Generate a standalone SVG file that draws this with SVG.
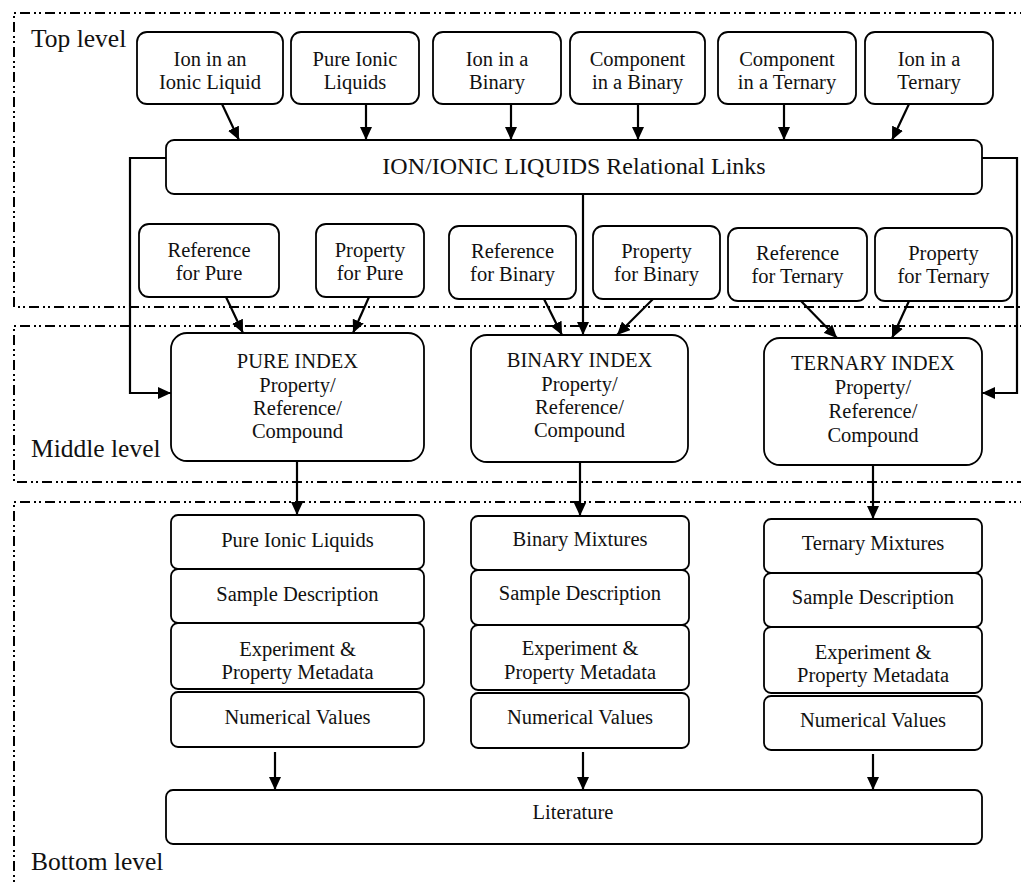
<svg xmlns="http://www.w3.org/2000/svg" width="1021" height="884" viewBox="0 0 1021 884">
<defs>
<marker id="ah" markerUnits="userSpaceOnUse" markerWidth="13" markerHeight="12" refX="13" refY="6" orient="auto">
<path d="M0,0 L13,6 L0,12 z" fill="#000"/>
</marker>
<style>
.bg{fill:#fff}
.region{fill:none;stroke:#000;stroke-width:2;stroke-dasharray:10 4 2 3 2 4}
.box{fill:#fff;stroke:#000;stroke-width:1.8}
.t{font-family:"Liberation Serif","Times New Roman",serif;font-size:20.5px;fill:#111;text-anchor:middle}
.big{font-size:24px}
.lbl{font-family:"Liberation Serif","Times New Roman",serif;font-size:25.5px;fill:#111}
.c{fill:none;stroke:#000;stroke-width:2.2;marker-end:url(#ah)}
</style>
</defs>
<rect class="bg" x="0" y="0" width="1021" height="884"/>
<g id="regions">
<path class="region" d="M1030,13 H14 V307 H1030"/>
<path class="region" d="M1030,326 H14 V482 H1030"/>
<path class="region" d="M1030,502 H14 V890"/>
<text class="lbl" x="31" y="47">Top level</text>
<text class="lbl" x="31" y="457">Middle level</text>
<text class="lbl" x="31" y="870">Bottom level</text>
</g>
<g id="connectors">
<line class="c" x1="222" y1="104" x2="239" y2="140"/>
<line class="c" x1="366" y1="104" x2="366" y2="140"/>
<line class="c" x1="511" y1="104" x2="511" y2="140"/>
<line class="c" x1="638" y1="104" x2="638" y2="140"/>
<line class="c" x1="784" y1="104" x2="784" y2="140"/>
<line class="c" x1="909" y1="104" x2="892" y2="140"/>
<polyline class="c" points="166,158 130,158 130,393 171,393"/>
<polyline class="c" points="982,158 1017,158 1017,393 982,393"/>
<line class="c" x1="583" y1="194" x2="583" y2="335"/>
<line class="c" x1="226" y1="297" x2="243" y2="333"/>
<line class="c" x1="369" y1="297" x2="353" y2="333"/>
<line class="c" x1="544" y1="299" x2="562" y2="335"/>
<line class="c" x1="653" y1="299" x2="617" y2="335"/>
<line class="c" x1="801" y1="301" x2="837" y2="338"/>
<line class="c" x1="909" y1="301" x2="892" y2="338"/>
<line class="c" x1="297" y1="461" x2="297" y2="515"/>
<line class="c" x1="580" y1="462" x2="580" y2="516"/>
<line class="c" x1="873" y1="465" x2="873" y2="519"/>
<line class="c" x1="275" y1="752" x2="275" y2="790"/>
<line class="c" x1="583" y1="752" x2="583" y2="790"/>
<line class="c" x1="873" y1="754" x2="873" y2="790"/>
</g>
<g id="n-ion-il"><rect class="box" x="137" y="32" width="146" height="72" rx="10"/><text class="t" x="210" y="66">Ion in an</text><text class="t" x="210" y="89">Ionic Liquid</text></g>
<g id="n-pure-il"><rect class="box" x="291" y="32" width="128" height="72" rx="10"/><text class="t" x="355" y="66">Pure Ionic</text><text class="t" x="355" y="89">Liquids</text></g>
<g id="n-ion-bin"><rect class="box" x="433" y="32" width="128" height="72" rx="10"/><text class="t" x="497" y="66">Ion in a</text><text class="t" x="497" y="89">Binary</text></g>
<g id="n-comp-bin"><rect class="box" x="570" y="32" width="135" height="72" rx="10"/><text class="t" x="637.5" y="66">Component</text><text class="t" x="637.5" y="89">in a Binary</text></g>
<g id="n-comp-ter"><rect class="box" x="718" y="32" width="138" height="72" rx="10"/><text class="t" x="787" y="66">Component</text><text class="t" x="787" y="89">in a Ternary</text></g>
<g id="n-ion-ter"><rect class="box" x="865" y="32" width="128" height="72" rx="10"/><text class="t" x="929" y="66">Ion in a</text><text class="t" x="929" y="89">Ternary</text></g>
<g id="n-links"><rect class="box" x="166" y="140" width="816" height="54" rx="8"/><text class="t big" x="574" y="174">ION/IONIC LIQUIDS Relational Links</text></g>
<g id="n-ref-pure"><rect class="box" x="139" y="224" width="140" height="73" rx="10"/><text class="t" x="209" y="257">Reference</text><text class="t" x="209" y="280">for Pure</text></g>
<g id="n-prop-pure"><rect class="box" x="316" y="224" width="108" height="73" rx="10"/><text class="t" x="370" y="257">Property</text><text class="t" x="370" y="280">for Pure</text></g>
<g id="n-ref-bin"><rect class="box" x="449" y="226" width="127" height="73" rx="10"/><text class="t" x="512.5" y="258">Reference</text><text class="t" x="512.5" y="281">for Binary</text></g>
<g id="n-prop-bin"><rect class="box" x="593" y="226" width="127" height="73" rx="10"/><text class="t" x="656.5" y="258">Property</text><text class="t" x="656.5" y="281">for Binary</text></g>
<g id="n-ref-ter"><rect class="box" x="728" y="228" width="139" height="73" rx="10"/><text class="t" x="797.5" y="260">Reference</text><text class="t" x="797.5" y="283">for Ternary</text></g>
<g id="n-prop-ter"><rect class="box" x="875" y="228" width="137" height="73" rx="10"/><text class="t" x="943.5" y="260">Property</text><text class="t" x="943.5" y="283">for Ternary</text></g>
<g id="n-pure-index"><rect class="box" x="171" y="333" width="253" height="128" rx="16"/><text class="t" x="297.5" y="368">PURE INDEX</text><text class="t" x="297.5" y="392">Property/</text><text class="t" x="297.5" y="415">Reference/</text><text class="t" x="297.5" y="438">Compound</text></g>
<g id="n-binary-index"><rect class="box" x="471" y="335" width="217" height="127" rx="16"/><text class="t" x="579.5" y="367">BINARY INDEX</text><text class="t" x="579.5" y="391">Property/</text><text class="t" x="579.5" y="414">Reference/</text><text class="t" x="579.5" y="437">Compound</text></g>
<g id="n-ternary-index"><rect class="box" x="764" y="338" width="218" height="127" rx="16"/><text class="t" x="873" y="370">TERNARY INDEX</text><text class="t" x="873" y="394">Property/</text><text class="t" x="873" y="418">Reference/</text><text class="t" x="873" y="442">Compound</text></g>
<g id="n-pure-stack">
<rect class="box" x="171" y="515" width="253" height="54" rx="7"/><text class="t" x="297.5" y="547">Pure Ionic Liquids</text>
<rect class="box" x="171" y="569" width="253" height="54" rx="7"/><text class="t" x="297.5" y="601">Sample Description</text>
<rect class="box" x="171" y="623" width="253" height="66" rx="7"/><text class="t" x="297.5" y="656">Experiment &amp;</text><text class="t" x="297.5" y="679">Property Metadata</text>
<rect class="box" x="171" y="692" width="253" height="55" rx="7"/><text class="t" x="297.5" y="724">Numerical Values</text>
</g>
<g id="n-binary-stack">
<rect class="box" x="471" y="516" width="218" height="54" rx="7"/><text class="t" x="580" y="546">Binary Mixtures</text>
<rect class="box" x="471" y="570" width="218" height="55" rx="7"/><text class="t" x="580" y="600">Sample Description</text>
<rect class="box" x="471" y="625" width="218" height="65" rx="7"/><text class="t" x="580" y="655">Experiment &amp;</text><text class="t" x="580" y="679">Property Metadata</text>
<rect class="box" x="471" y="693" width="218" height="55" rx="7"/><text class="t" x="580" y="724">Numerical Values</text>
</g>
<g id="n-ternary-stack">
<rect class="box" x="764" y="519" width="218" height="54" rx="7"/><text class="t" x="873" y="550">Ternary Mixtures</text>
<rect class="box" x="764" y="573" width="218" height="54" rx="7"/><text class="t" x="873" y="604">Sample Description</text>
<rect class="box" x="764" y="627" width="218" height="66" rx="7"/><text class="t" x="873" y="659">Experiment &amp;</text><text class="t" x="873" y="682">Property Metadata</text>
<rect class="box" x="764" y="696" width="218" height="54" rx="7"/><text class="t" x="873" y="727">Numerical Values</text>
</g>
<g id="n-literature"><rect class="box" x="166" y="790" width="816" height="54" rx="7"/><text class="t" x="573" y="819">Literature</text></g>
</svg>
